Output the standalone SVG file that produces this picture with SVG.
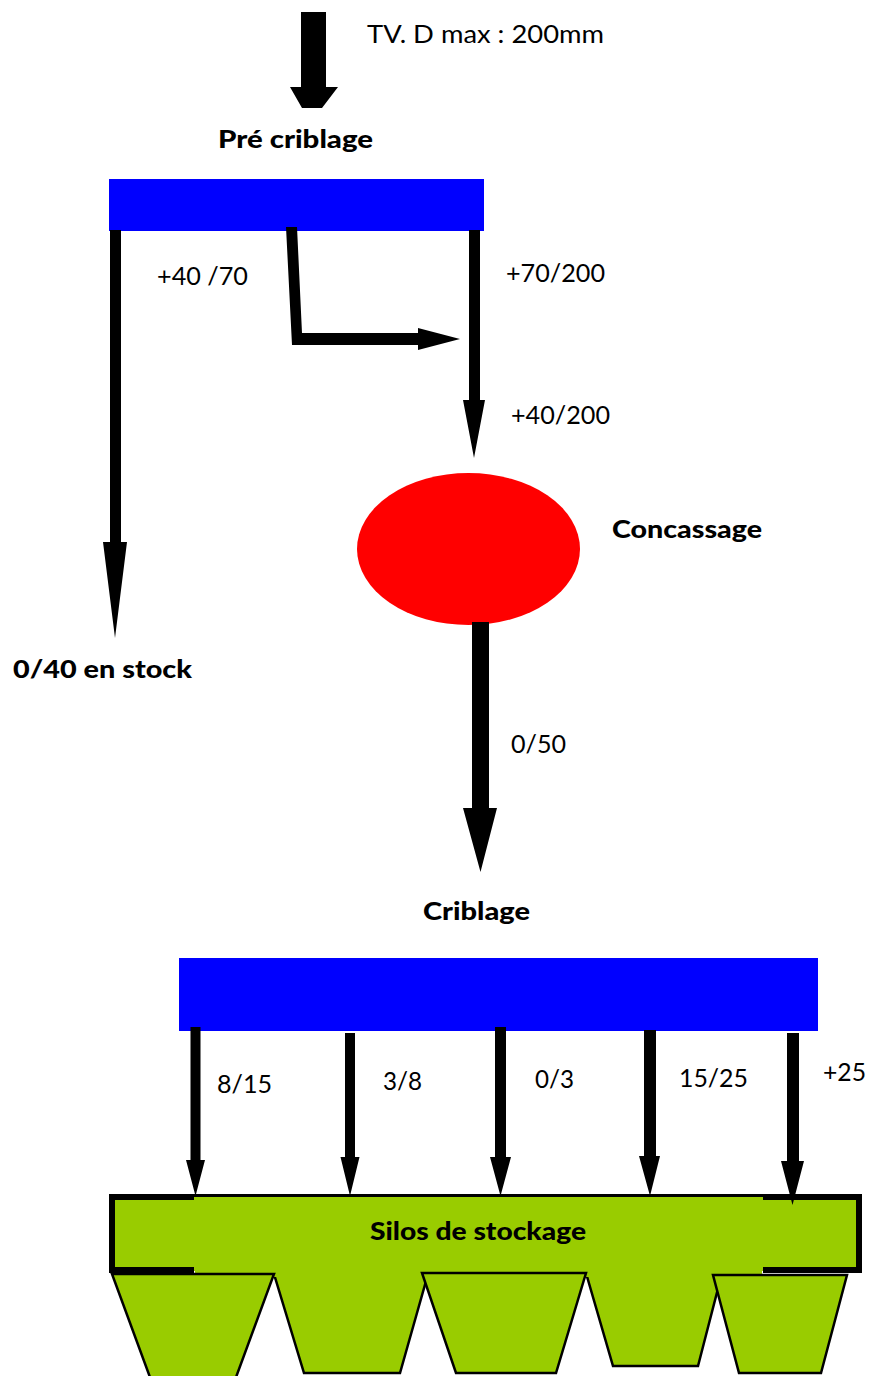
<svg xmlns="http://www.w3.org/2000/svg" width="871" height="1376" viewBox="0 0 871 1376">
<style>
.t{font-family:Lato,"Liberation Sans",sans-serif;font-size:25px;fill:#000}
.b{font-weight:900}
.arrow{fill:#000}
.screen{fill:#0000FF}
.silo{fill:#99CC00;stroke:#000;stroke-width:2.5;stroke-linejoin:miter}
.green{fill:#99CC00}
.bd{fill:#000}
</style>
<rect width="871" height="1376" fill="#fff"/>

<g id="input">
<text class="t" x="367" y="43" textLength="237" lengthAdjust="spacingAndGlyphs">TV. D max : 200mm</text>
</g>

<g id="pre-criblage">
<text class="t b" x="218" y="148" textLength="155" lengthAdjust="spacingAndGlyphs">Pré criblage</text>
<rect class="screen" x="109" y="179" width="375" height="52"/>
</g>

<g id="concassage">
<ellipse cx="468.5" cy="549" rx="111.5" ry="76" fill="#FF0000"/>
<text class="t b" x="612" y="538" textLength="150" lengthAdjust="spacingAndGlyphs">Concassage</text>
</g>

<g id="stock">
<text class="t b" x="13" y="678" textLength="179" lengthAdjust="spacingAndGlyphs">0/40 en stock</text>
</g>

<g id="criblage">
<text class="t b" x="423" y="920" textLength="107" lengthAdjust="spacingAndGlyphs">Criblage</text>
<rect class="screen" x="179" y="958" width="639" height="73"/>
</g>

<g id="silos">
<rect class="green" x="112" y="1197" width="748" height="74"/>
<polygon class="silo" points="274,1274 428,1274 400,1373 304,1373"/>
<polygon class="silo" points="586,1273 722,1273 698,1366 613,1366"/>
<rect class="green" x="195" y="1196" width="567" height="81"/>
<polygon class="silo" points="112,1274 274,1274 235,1380 151,1380"/>
<polygon class="silo" points="422,1273 586,1273 556,1373 456,1373"/>
<polygon class="silo" points="713,1275 847,1275 821,1373 739,1373"/>
<rect class="bd" x="109" y="1194" width="753" height="3"/>
<rect class="bd" x="109" y="1194" width="85" height="6"/>
<rect class="bd" x="109" y="1194" width="6" height="79"/>
<rect class="bd" x="109" y="1267" width="85" height="6"/>
<rect class="bd" x="763" y="1194" width="99" height="6"/>
<rect class="bd" x="856" y="1194" width="6" height="79"/>
<rect class="bd" x="763" y="1267" width="99" height="6"/>
<text class="t b" x="370" y="1240" textLength="216" lengthAdjust="spacingAndGlyphs">Silos de stockage</text>
</g>

<g id="connectors">
<polygon class="arrow" points="301,12 326,12 326,87 338,87 322,108 302,108 290,87 301,87"/>
<polygon class="arrow" points="110,230 121,230 121,542 127,542 115,638 103,542 110,542"/>
<polygon class="arrow" points="286,227 297,227 302,333 418,333 418,328 460,339 418,350 418,345 292,345"/>
<polygon class="arrow" points="469,230 480,230 480,400 485,400 474,458 463,400 469,400"/>
<polygon class="arrow" points="472,622 489,622 489,808 497,808 480.5,872 463,808 472,808"/>
<polygon class="arrow" points="190.5,1027 200.5,1027 200.5,1160 205,1160 195.5,1196 186,1160 190.5,1160"/>
<polygon class="arrow" points="345,1033 355,1033 355,1157 359.5,1157 350,1196 340.5,1157 345,1157"/>
<polygon class="arrow" points="495,1027 506,1027 506,1157 511,1157 500.5,1196 490,1157 495,1157"/>
<polygon class="arrow" points="644,1030 656,1030 656,1156 660,1156 650,1196 639,1156 644,1156"/>
<polygon class="arrow" points="787,1033 799,1033 799,1161 804,1161 792.5,1205 781,1161 787,1161"/>
</g>

<g id="labels">
<text class="t" x="157" y="285" textLength="91" lengthAdjust="spacingAndGlyphs">+40 /70</text>
<text class="t" x="506" y="282" textLength="99" lengthAdjust="spacingAndGlyphs">+70/200</text>
<text class="t" x="511" y="424" textLength="99" lengthAdjust="spacingAndGlyphs">+40/200</text>
<text class="t" x="511" y="753" textLength="55" lengthAdjust="spacingAndGlyphs">0/50</text>
<text class="t" x="217" y="1093" textLength="55" lengthAdjust="spacingAndGlyphs">8/15</text>
<text class="t" x="383" y="1090" textLength="39" lengthAdjust="spacingAndGlyphs">3/8</text>
<text class="t" x="535" y="1088" textLength="39" lengthAdjust="spacingAndGlyphs">0/3</text>
<text class="t" x="679" y="1087" textLength="69" lengthAdjust="spacingAndGlyphs">15/25</text>
<text class="t" x="823" y="1081" textLength="43" lengthAdjust="spacingAndGlyphs">+25</text>
</g>
</svg>
